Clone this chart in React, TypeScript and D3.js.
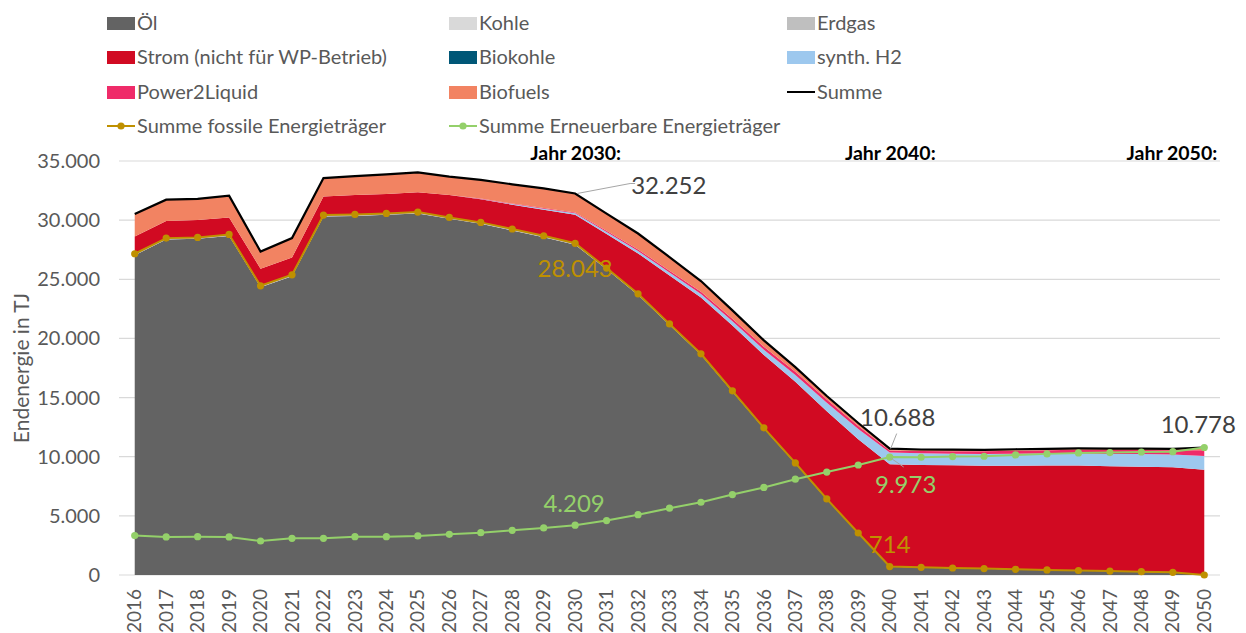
import React, { useEffect, useRef } from 'react';
import * as d3 from 'd3';

const years = d3.range(2016, 2051).map(String);

// Endenergie in TJ
const oel = [27040, 28360, 28420, 28670, 24330, 25260, 30310, 30360, 30450, 30560, 30110, 29690, 29130, 28560, 27923, 25840, 23670, 21140, 18620, 15500, 12380, 9425, 6390, 3520, 694, 630, 570, 520, 460, 410, 360, 310, 260, 210, 0];
const kohle = [0, 0, 0, 0, 0, 0, 0, 0, 0, 0, 0, 0, 0, 0, 0, 0, 0, 0, 0, 0, 0, 0, 0, 0, 0, 0, 0, 0, 0, 0, 0, 0, 0, 0, 0];
const erdgas = [120, 120, 120, 120, 120, 120, 120, 120, 120, 120, 120, 120, 120, 120, 120, 110, 100, 90, 80, 70, 60, 50, 40, 30, 20, 20, 20, 20, 20, 20, 20, 20, 20, 20, 0];
const strom = [1450, 1450, 1480, 1440, 1450, 1460, 1570, 1640, 1650, 1680, 1900, 1950, 2060, 2200, 2420, 2880, 3420, 4100, 4770, 5530, 6160, 6860, 7420, 7920, 8650, 8650, 8680, 8690, 8760, 8820, 8870, 8870, 8880, 8880, 8900];
const biokohle = [0, 0, 0, 0, 0, 0, 0, 0, 0, 0, 0, 0, 0, 0, 0, 0, 0, 0, 0, 0, 0, 0, 0, 0, 0, 0, 0, 0, 0, 0, 0, 0, 0, 0, 0];
const synthH2 = [0, 0, 0, 0, 0, 0, 0, 0, 0, 0, 0, 30, 50, 80, 110, 160, 200, 240, 290, 350, 450, 580, 720, 880, 1000, 990, 990, 1000, 1010, 1020, 1030, 1040, 1060, 1080, 1150];
const power2Liquid = [0, 0, 0, 0, 0, 0, 0, 0, 0, 0, 0, 30, 40, 60, 80, 110, 130, 160, 190, 220, 240, 260, 260, 250, 170, 190, 210, 230, 260, 280, 300, 320, 340, 360, 500];
const biofuels = [1900, 1800, 1780, 1830, 1450, 1640, 1560, 1600, 1650, 1670, 1550, 1580, 1630, 1660, 1599, 1450, 1350, 1150, 900, 700, 550, 400, 300, 250, 154, 130, 130, 120, 120, 120, 120, 120, 120, 110, 228];
const summeFossil = [27160, 28480, 28540, 28790, 24450, 25380, 30430, 30480, 30570, 30680, 30230, 29810, 29250, 28680, 28043, 25950, 23770, 21230, 18700, 15570, 12440, 9475, 6430, 3550, 714, 650, 590, 540, 480, 430, 380, 330, 280, 230, 0];
const summeErneuerbar = [3330, 3215, 3240, 3215, 2876, 3100, 3100, 3240, 3240, 3300, 3440, 3580, 3780, 3980, 4209, 4600, 5100, 5650, 6150, 6800, 7400, 8100, 8700, 9300, 9973, 9955, 10010, 10040, 10150, 10240, 10320, 10350, 10400, 10430, 10778];

const areaSeries = [
	{ key: 'Öl', values: oel, color: '#636363' },
	{ key: 'Kohle', values: kohle, color: '#d9d9d9' },
	{ key: 'Erdgas', values: erdgas, color: '#bfbfbf' },
	{ key: 'Strom (nicht für WP-Betrieb)', values: strom, color: '#d10a22' },
	{ key: 'Biokohle', values: biokohle, color: '#005777' },
	{ key: 'synth. H2', values: synthH2, color: '#9dc8ee' },
	{ key: 'Power2Liquid', values: power2Liquid, color: '#ef2b69' },
	{ key: 'Biofuels', values: biofuels, color: '#f28362' },
];

const FOSSIL = '#bf9000';
const GREEN = '#94d06a';
const FONT = 'Lato, "Open Sans", sans-serif';

const de = d3.formatLocale({ decimal: ',', thousands: '.', grouping: [3], currency: ['', '€'] });
const fmt = de.format(',.0f');

const App = () => {
	const ref = useRef(null);

	useEffect(() => {
		const width = 1246;
		const height = 633;
		const left = 119, right = 1220, top = 161, bottom = 575;

		d3.select(ref.current).selectAll('*').remove();
		const svg = d3.select(ref.current)
			.append('svg')
			.attr('width', width)
			.attr('height', height)
			.style('position', 'absolute')
			.style('left', 0)
			.style('top', 0)
			.style('font-family', FONT);

		const x = d3.scalePoint().domain(years).range([left, right]).padding(0.5);
		const y = d3.scaleLinear().domain([0, 35000]).range([bottom, top]);

		// gridlines
		const yTicks = d3.range(0, 35001, 5000);
		svg.append('g')
			.selectAll('line')
			.data(yTicks)
			.join('line')
			.attr('x1', left)
			.attr('x2', right)
			.attr('y1', d => y(d))
			.attr('y2', d => y(d))
			.attr('stroke', '#d9d9d9')
			.attr('stroke-width', 1.2);

		svg.append('g')
			.selectAll('text')
			.data(yTicks)
			.join('text')
			.attr('x', 100)
			.attr('y', d => y(d))
			.attr('dy', '0.35em')
			.attr('text-anchor', 'end')
			.attr('font-size', 20)
			.attr('fill', '#595959')
			.text(d => fmt(d));

		// stacked areas
		const table = years.map((yr, i) => {
			const row = { year: yr };
			areaSeries.forEach(s => { row[s.key] = s.values[i]; });
			return row;
		});
		const stacked = d3.stack().keys(areaSeries.map(s => s.key))(table);
		const area = d3.area()
			.x(d => x(d.data.year))
			.y0(d => y(d[0]))
			.y1(d => y(d[1]));

		svg.append('g')
			.selectAll('path')
			.data(stacked)
			.join('path')
			.attr('fill', (d, i) => areaSeries[i].color)
			.attr('d', area);

		const totals = table.map((row, i) => ({ year: row.year, value: stacked[stacked.length - 1][i][1] }));

		const line = d3.line().x(d => x(d.year)).y(d => y(d.value));

		svg.append('path')
			.datum(totals)
			.attr('fill', 'none')
			.attr('stroke', '#000')
			.attr('stroke-width', 2.2)
			.attr('d', line);

		const markerLines = [
			{ values: summeFossil, color: FOSSIL },
			{ values: summeErneuerbar, color: GREEN },
		];
		markerLines.forEach(m => {
			const pts = years.map((yr, i) => ({ year: yr, value: m.values[i] }));
			svg.append('path')
				.datum(pts)
				.attr('fill', 'none')
				.attr('stroke', m.color)
				.attr('stroke-width', 2)
				.attr('d', line);
			svg.append('g')
				.selectAll('circle')
				.data(pts)
				.join('circle')
				.attr('cx', d => x(d.year))
				.attr('cy', d => y(d.value))
				.attr('r', 3.6)
				.attr('fill', m.color);
		});

		// x axis labels
		svg.append('g')
			.selectAll('text')
			.data(years)
			.join('text')
			.attr('transform', d => `translate(${x(d)},589) rotate(-90)`)
			.attr('dy', '0.35em')
			.attr('text-anchor', 'end')
			.attr('font-size', 19)
			.attr('fill', '#595959')
			.text(d => d);

		svg.append('text')
			.attr('transform', `translate(22,${(top + bottom) / 2}) rotate(-90)`)
			.attr('dy', '0.35em')
			.attr('text-anchor', 'middle')
			.attr('font-size', 21)
			.attr('fill', '#595959')
			.text('Endenergie in TJ');

		// year headers
		['2030', '2040', '2050'].forEach(yr => {
			svg.append('text')
				.attr('x', yr === '2050' ? x(yr) + 13 : x(yr) + 46)
				.attr('y', 160)
				.attr('text-anchor', 'end')
				.attr('font-size', 19.5)
				.attr('font-weight', 'bold')
				.attr('fill', '#000')
				.text(`Jahr ${yr}:`);
		});

		// data labels
		const i2030 = years.indexOf('2030');
		const i2040 = years.indexOf('2040');
		const i2050 = years.indexOf('2050');
		const lbl = (tx, ty, txt, color, anchor = 'middle') => svg.append('text')
			.attr('x', tx)
			.attr('y', ty)
			.attr('dy', '0.35em')
			.attr('text-anchor', anchor)
			.attr('font-size', 24)
			.attr('fill', color)
			.text(txt);

		const p30 = [x('2030'), y(totals[i2030].value)];
		svg.append('polyline')
			.attr('points', `${p30[0] + 2},${p30[1]} ${p30[0] + 55},${p30[1] - 10} ${p30[0] + 60},${p30[1] - 10}`)
			.attr('fill', 'none')
			.attr('stroke', '#a6a6a6')
			.attr('stroke-width', 1);
		lbl(p30[0] + 56, p30[1] - 8, fmt(totals[i2030].value), '#404040', 'start');
		lbl(x('2030') + 0, y(summeFossil[i2030]) + 25, fmt(summeFossil[i2030]), FOSSIL);
		lbl(x('2030') - 1, y(summeErneuerbar[i2030]) - 22, fmt(summeErneuerbar[i2030]), GREEN);

		const p40 = [x('2040'), y(totals[i2040].value)];
		svg.append('line')
			.attr('x1', p40[0] + 1).attr('y1', p40[1])
			.attr('x2', p40[0] + 7).attr('y2', p40[1] - 15)
			.attr('stroke', '#a6a6a6');
		lbl(p40[0] + 8, p40[1] - 31, fmt(totals[i2040].value), '#404040');
		const g40 = [x('2040'), y(summeErneuerbar[i2040])];
		svg.append('line')
			.attr('x1', g40[0] + 1).attr('y1', g40[1] + 1)
			.attr('x2', g40[0] + 14).attr('y2', g40[1] + 10)
			.attr('stroke', '#a6a6a6');
		lbl(g40[0] + 16, g40[1] + 28, fmt(summeErneuerbar[i2040]), GREEN);
		lbl(x('2040'), y(summeFossil[i2040]) - 22, fmt(summeFossil[i2040]), FOSSIL);

		lbl(x('2050') - 6, y(totals[i2050].value) - 23, fmt(totals[i2050].value), '#404040');

		// legend
		const legendItems = [
			...areaSeries.map(s => ({ key: s.key, color: s.color, type: 'box' })),
			{ key: 'Summe', color: '#000', type: 'line' },
			{ key: 'Summe fossile Energieträger', color: FOSSIL, type: 'marker' },
			{ key: 'Summe Erneuerbare Energieträger', color: GREEN, type: 'marker' },
		];
		const colX = [107, 449, 787];
		const rowY = [23, 57, 92, 126];
		legendItems.forEach((item, i) => {
			const g = svg.append('g')
				.attr('transform', `translate(${colX[i % 3]},${rowY[Math.floor(i / 3)]})`);
			if (item.type === 'box') {
				g.append('rect').attr('x', 0).attr('y', -6).attr('width', 28).attr('height', 13).attr('fill', item.color);
			} else {
				g.append('line').attr('x1', 0).attr('x2', 28).attr('y1', 0).attr('y2', 0)
					.attr('stroke', item.color).attr('stroke-width', 2);
				if (item.type === 'marker') {
					g.append('circle').attr('cx', 14).attr('cy', 0).attr('r', 3.6).attr('fill', item.color);
				}
			}
			g.append('text')
				.attr('x', 30)
				.attr('dy', '0.35em')
				.attr('font-size', 20)
				.attr('fill', '#595959')
				.text(item.key);
		});
	}, []);

	return <div ref={ref}></div>;
};

export default App;
